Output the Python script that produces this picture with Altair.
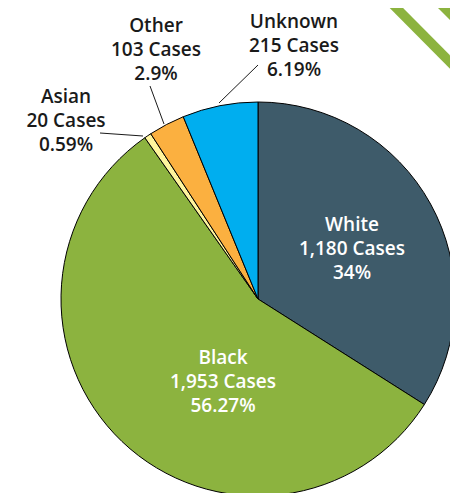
import altair as alt
import pandas as pd

# ---- data ----
races = ["White", "Black", "Asian", "Other", "Unknown"]
cases = [1180, 1953, 20, 103, 215]
pct_labels = ["34%", "56.27%", "0.59%", "2.9%", "6.19%"]
colors = ["#3e5b6a", "#8cb33f", "#fff59d", "#fbb040", "#00aeef"]

df = pd.DataFrame({
    "race": races,
    "cases": cases,
    "order": list(range(len(races))),
})

FONT = "Open Sans"
FS = 19

pie = alt.Chart(df).mark_arc(
    radius=197, stroke="#000000", strokeWidth=1, x=250, y=291
).encode(
    theta=alt.Theta("cases:Q", stack=True),
    color=alt.Color("race:N", scale=alt.Scale(domain=races, range=colors), legend=None),
    order=alt.Order("order:Q"),
)

# label text built from the arrays
lab_df = pd.DataFrame({
    "race": races,
    "lines": [[r, f"{c:,} Cases", p] for r, c, p in zip(races, cases, pct_labels)],
})

# label placement (style; x centre, y of first line, in plot coords)
label_pos = {
    "White": (344, 217, "#ffffff", 24),
    "Black": (215, 350, "#ffffff", 24),
    "Asian": (58, 89, "#1a1a1a", 24),
    "Other": (148, 18, "#1a1a1a", 24),
    "Unknown": (286, 14, "#1a1a1a", 24),
}

layers = [pie]

# leader lines
leaders = [
    ((250, 57), (211, 95)),
    ((142, 78), (156, 116)),
    ((92, 125), (135, 128)),
]
for (x1, y1), (x2, y2) in leaders:
    layers.append(
        alt.Chart(df).mark_rule(color="#1a1a1a", strokeWidth=1).encode(
            x=alt.value(x1), y=alt.value(y1), x2=alt.value(x2), y2=alt.value(y2)
        ).transform_filter(alt.datum.order == 0)
    )

for race, (lx, ly, col, lh) in label_pos.items():
    layers.append(
        alt.Chart(lab_df).transform_filter(alt.datum.race == race).mark_text(
            font=FONT, fontSize=FS, fontWeight=600, color=col,
            align="center", baseline="middle", lineHeight=lh,
        ).encode(
            text="lines",
            x=alt.value(lx), y=alt.value(ly),
        )
    )

# decorative green stripes at the top-right corner
layers.append(
    alt.Chart(df).transform_filter(alt.datum.order == 0).mark_rule(
        color="#8cb33f", strokeWidth=9.5, strokeCap="butt"
    ).encode(x=alt.value(370), y=alt.value(-18.5), x2=alt.value(462), y2=alt.value(74))
)
layers.append(
    alt.Chart(df).transform_filter(alt.datum.order == 0).mark_rule(
        color="#8cb33f", strokeWidth=40, strokeCap="butt"
    ).encode(x=alt.value(428.3), y=alt.value(-30), x2=alt.value(498.3), y2=alt.value(40))
)

chart = alt.layer(*layers).properties(
    width=442, height=485, padding=0,
    autosize=alt.AutoSizeParams(type="none"),
).configure_view(stroke=None)

chart.save("out.html", embed_options={"renderer": "svg", "actions": False})
